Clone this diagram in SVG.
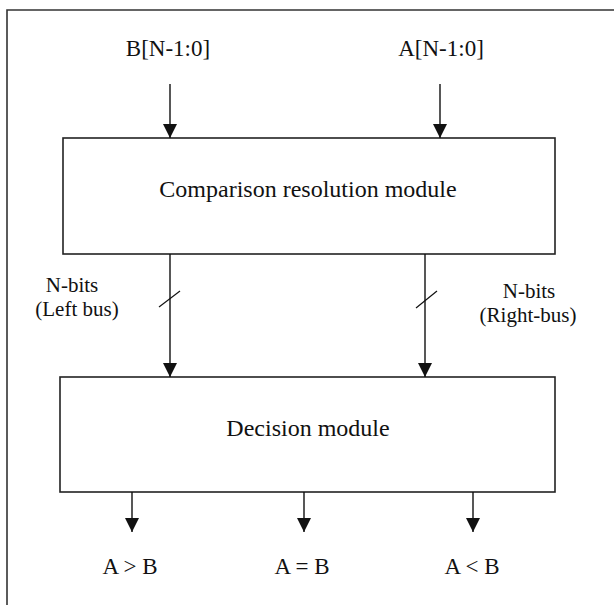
<svg xmlns="http://www.w3.org/2000/svg" width="614" height="605" viewBox="0 0 614 605">
  <style>
    .frame { fill: none; stroke: #333; stroke-width: 1.6; }
    .box { fill: #fff; stroke: #222; stroke-width: 1.6; }
    .wire { fill: none; stroke: #111; stroke-width: 1.4; }
    .tick { fill: none; stroke: #111; stroke-width: 1.2; }
    .lbl { font-family: "Liberation Serif", "Times New Roman", serif; font-size: 23px; fill: #111; text-anchor: middle; }
    .big { font-size: 24px; }
    .bus { font-size: 21px; }
  </style>
  <defs>
    <marker id="arrow" markerUnits="userSpaceOnUse" markerWidth="15" markerHeight="16" refX="14" refY="7" orient="auto">
      <path d="M0,0 L14,7 L0,14 Z" fill="#111"/>
    </marker>
  </defs>

  <rect width="614" height="605" fill="#fff"/>

  <!-- outer frame: top and left edges only -->
  <path class="frame" d="M7,605 L7,10 L614,10"/>

  <!-- input labels -->
  <text class="lbl" x="168" y="56">B[N-1:0]</text>
  <text class="lbl" x="441" y="56">A[N-1:0]</text>

  <g id="comparison-resolution-module">
    <rect class="box" x="63" y="138" width="492" height="116"/>
    <text class="lbl big" x="308" y="197">Comparison resolution module</text>
  </g>

  <g id="decision-module">
    <rect class="box" x="60" y="377" width="495" height="115"/>
    <text class="lbl big" x="308" y="436">Decision module</text>
  </g>

  <g id="connectors">
    <line class="wire" x1="170" y1="84" x2="170" y2="138" marker-end="url(#arrow)"/>
    <line class="wire" x1="440" y1="84" x2="440" y2="138" marker-end="url(#arrow)"/>
    <line class="wire" x1="170" y1="254" x2="170" y2="377" marker-end="url(#arrow)"/>
    <line class="wire" x1="425" y1="254" x2="425" y2="377" marker-end="url(#arrow)"/>
    <line class="tick" x1="159" y1="307" x2="180" y2="291"/>
    <line class="tick" x1="416" y1="308" x2="437" y2="291"/>
    <line class="wire" x1="132" y1="492" x2="132" y2="532" marker-end="url(#arrow)"/>
    <line class="wire" x1="304" y1="492" x2="304" y2="532" marker-end="url(#arrow)"/>
    <line class="wire" x1="473" y1="492" x2="473" y2="532" marker-end="url(#arrow)"/>
  </g>

  <!-- bus labels -->
  <text class="lbl bus" x="72" y="292">N-bits</text>
  <text class="lbl bus" x="77" y="316">(Left bus)</text>
  <text class="lbl bus" x="529" y="298">N-bits</text>
  <text class="lbl bus" x="528" y="322">(Right-bus)</text>

  <!-- output labels -->
  <text class="lbl" x="130" y="574">A &gt; B</text>
  <text class="lbl" x="302" y="574">A = B</text>
  <text class="lbl" x="472" y="574">A &lt; B</text>
</svg>
